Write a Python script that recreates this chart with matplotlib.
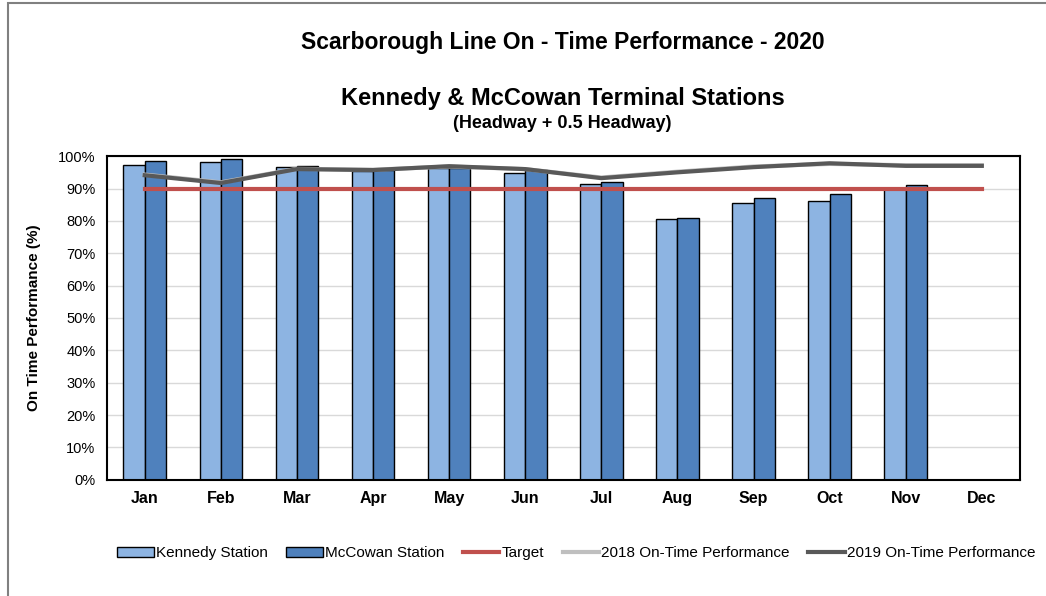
import numpy as np
import matplotlib.pyplot as plt
from matplotlib.patches import Rectangle

months = ['Jan', 'Feb', 'Mar', 'Apr', 'May', 'Jun', 'Jul', 'Aug', 'Sep', 'Oct', 'Nov', 'Dec']
kennedy = [97.2, 98.1, 96.5, 95.4, 96.3, 94.8, 91.4, 80.6, 85.5, 86.1, 90.0, np.nan]
mccowan = [98.5, 99.0, 96.9, 95.7, 96.3, 95.7, 92.0, 80.9, 87.0, 88.3, 91.0, np.nan]
target = [90] * 12
otp_2018 = [94.3, 91.9, 96.1, 95.8, 96.8, 96.0, 93.4, 95.2, 96.8, 97.6, 97.2, 97.2]
otp_2019 = [94.1, 91.7, 96.0, 95.7, 96.9, 96.0, 93.2, 95.0, 96.6, 97.8, 97.0, 97.0]

plt.rcParams['font.family'] = ['Liberation Sans', 'DejaVu Sans']

fig = plt.figure(figsize=(10.46, 5.96), dpi=100)
ax = fig.add_axes([0.102, 0.195, 0.873, 0.543])

x = np.arange(len(months))
w = 0.28
b1 = ax.bar(x - w / 2, kennedy, w, color='#8DB4E2', edgecolor='black', linewidth=1,
            label='Kennedy Station', zorder=2)
b2 = ax.bar(x + w / 2, mccowan, w, color='#4F81BD', edgecolor='black', linewidth=1,
            label='McCowan Station', zorder=2)
l1, = ax.plot(x, target, color='#C0504D', linewidth=3, label='Target', zorder=3)
l2, = ax.plot(x, otp_2018, color='#BFBFBF', linewidth=3, label='2018 On-Time Performance', zorder=3)
l3, = ax.plot(x, otp_2019, color='#595959', linewidth=3, label='2019 On-Time Performance', zorder=4)

ax.set_xlim(-0.5, 11.5)
ax.set_ylim(0, 100)
ax.set_yticks(range(0, 101, 10))
ax.set_yticklabels([f'{v}%' for v in range(0, 101, 10)], fontsize=10.5)
ax.set_xticks(x)
ax.set_xticklabels(months, fontsize=11.5, fontweight='bold')
ax.tick_params(length=0, pad=8)
ax.grid(axis='y', color='#D9D9D9', linewidth=1, zorder=0)
ax.set_axisbelow(True)
for s in ax.spines.values():
    s.set_linewidth(1.5)
    s.set_color('black')
ax.set_ylabel('On Time Performance (%)', fontsize=11, fontweight='bold', labelpad=12)

fig.text(0.538, 0.928, 'Scarborough Line On - Time Performance - 2020', ha='center', va='center',
         fontsize=16.5, fontweight='bold')
fig.text(0.538, 0.835, 'Kennedy & McCowan Terminal Stations', ha='center', va='center',
         fontsize=17, fontweight='bold')
fig.text(0.538, 0.793, '(Headway + 0.5 Headway)', ha='center', va='center',
         fontsize=13, fontweight='bold')

fig.legend([b1, b2, l1, l2, l3],
           ['Kennedy Station', 'McCowan Station', 'Target',
            '2018 On-Time Performance', '2019 On-Time Performance'],
           loc='center', bbox_to_anchor=(0.551, 0.072), ncol=5, frameon=False,
           fontsize=11, handlelength=2.4, handleheight=0.6, handletextpad=0.15,
           columnspacing=1.2)

fig.patches.append(Rectangle((8 / 1046, -0.1), 1.2, 1.1 - 3 / 596, transform=fig.transFigure,
                             fill=False, edgecolor='#808080', linewidth=1.5))

fig.savefig('out.png', dpi=100)
